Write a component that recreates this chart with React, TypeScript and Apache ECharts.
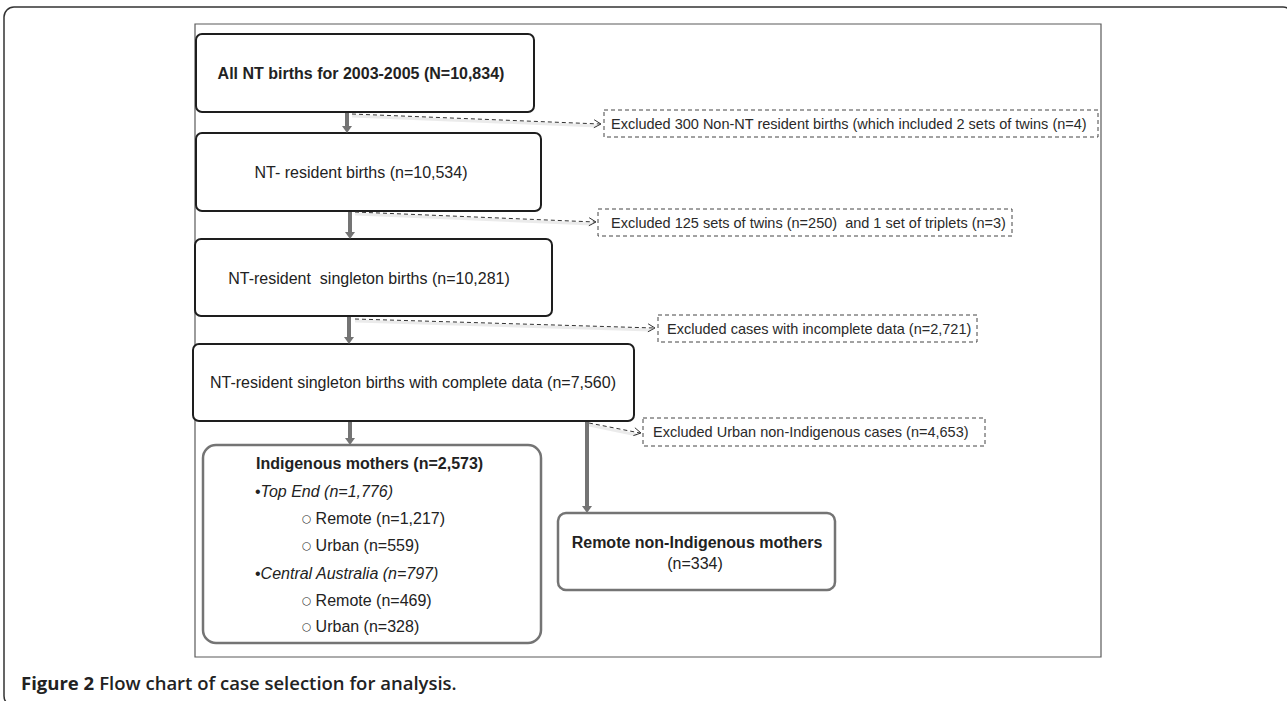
import React, { useEffect, useRef } from "react";
import * as echarts from "echarts";

// ---- data ----
const stepLabels = [
  "All NT births for 2003-2005",
  "NT- resident births",
  "NT-resident  singleton births",
  "NT-resident singleton births with complete data",
];
const stepCounts = ["N=10,834", "n=10,534", "n=10,281", "n=7,560"];
const excludedTexts = [
  "Excluded 300 Non-NT resident births (which included 2 sets of twins (n=4)",
  "Excluded 125 sets of twins (n=250)  and 1 set of triplets (n=3)",
  "Excluded cases with incomplete data (n=2,721)",
  "Excluded Urban non-Indigenous cases (n=4,653)",
];
const indigenousLabel = "Indigenous mothers";
const indigenousCount = "n=2,573";
const regionLabels = ["Top End", "Central Australia"];
const regionCounts = ["n=1,776", "n=797"];
const subLabels = ["Remote", "Urban", "Remote", "Urban"];
const subCounts = ["n=1,217", "n=559", "n=469", "n=328"];
const nonIndigenousLabel = "Remote non-Indigenous mothers";
const nonIndigenousCount = "n=334";
const captionLead = "Figure 2";
const captionText = "Flow chart of case selection for analysis.";

const FONT = '"Liberation Sans", Arial, Helvetica, sans-serif';
const DARK = "#1e1e1e";
const GRAY = "#747474";

function box(x1: number, y1: number, x2: number, y2: number, r: number, stroke: string, lw: number, dash?: number[]) {
  return {
    type: "rect",
    shape: { x: x1, y: y1, width: x2 - x1, height: y2 - y1, r },
    style: { fill: "#fff", stroke, lineWidth: lw, lineDash: dash },
    silent: true,
  };
}

function text(x: number, y: number, t: string, size: number, opts: any = {}) {
  const align = opts.align || "center";
  return {
    type: "text",
    x,
    y,
    silent: true,
    style: {
      text: t,
      fontFamily: opts.family || FONT,
      fontSize: size,
      fontWeight: opts.weight || "normal",
      fontStyle: opts.italic ? "italic" : "normal",
      fill: opts.color || "#222",
      align,
      textAlign: align,
      verticalAlign: "middle",
      textVerticalAlign: "middle",
      rich: opts.rich,
    },
  };
}

function grayArrow(x: number, y1: number, y2: number) {
  return [
    {
      type: "line",
      shape: { x1: x, y1, x2: x, y2: y2 - 6 },
      style: { stroke: GRAY, lineWidth: 4 },
      silent: true,
    },
    {
      type: "polygon",
      shape: { points: [[x - 5, y2 - 7], [x + 5, y2 - 7], [x, y2]] },
      style: { fill: GRAY },
      silent: true,
    },
  ];
}

function dashedArrow(x1: number, y1: number, x2: number, y2: number) {
  const dx = x2 - x1;
  const dy = y2 - y1;
  const len = Math.sqrt(dx * dx + dy * dy);
  const ux = dx / len;
  const uy = dy / len;
  const px = -uy;
  const py = ux;
  const bx = x2 - ux * 7;
  const by = y2 - uy * 7;
  return [
    {
      type: "line",
      shape: { x1, y1: y1 + 2, x2: x2 - 4, y2: y2 + 2 },
      style: { stroke: "rgba(0,0,0,0.08)", lineWidth: 3 },
      silent: true,
    },
    {
      type: "line",
      shape: { x1, y1, x2: x2 - 1, y2 },
      style: { stroke: "#333", lineWidth: 1, lineDash: [4, 3] },
      silent: true,
    },
    {
      type: "polyline",
      shape: { points: [[bx + px * 4, by + py * 4], [x2, y2], [bx - px * 4, by - py * 4]] },
      style: { stroke: "#333", lineWidth: 1, fill: null },
      silent: true,
    },
  ];
}

function excludedBox(x1: number, y1: number, x2: number, y2: number, padL: number, t: string) {
  return [
    box(x1, y1, x2, y2, 0, "#444", 1, [4, 3]),
    text(x1 + padL, (y1 + y2) / 2, t, 14.5, { align: "left", color: "#2a2a2a" }),
  ];
}

export default function App() {
  const ref = useRef<HTMLDivElement>(null);

  useEffect(() => {
    document.body.style.margin = "0";
    if (!ref.current) return;
    const chart = echarts.init(ref.current, undefined, { renderer: "svg" });

    const els: any[] = [];
    // outer frame and inner figure frame
    els.push(box(4, 7, 1293, 706, 10, "#333", 1.5));
    els.push(box(195, 24, 1101, 657, 0, "#5a5a5a", 1.2));

    // main steps
    const mainBoxes = [
      [196, 34, 534, 112],
      [196, 133, 541, 211],
      [195, 239, 552, 316],
      [193, 344, 634, 421],
    ];
    const mainTextPos = [
      [361, 73],
      [361, 172],
      [369, 278],
      [413, 382],
    ];
    mainBoxes.forEach((b, i) => {
      els.push(box(b[0], b[1], b[2], b[3], 6, DARK, 2));
      els.push(
        text(mainTextPos[i][0], mainTextPos[i][1], `${stepLabels[i]} (${stepCounts[i]})`, 16, {
          weight: i === 0 ? "bold" : "normal",
        })
      );
    });

    // arrows between steps
    els.push(...grayArrow(347, 113, 133));
    els.push(...grayArrow(350, 212, 239));
    els.push(...grayArrow(349, 317, 344));
    els.push(...grayArrow(350, 422, 445));
    els.push(...grayArrow(587, 422, 513));

    // exclusions
    els.push(...dashedArrow(352, 114, 601, 124));
    els.push(...excludedBox(604, 110, 1098, 137, 7, excludedTexts[0]));
    els.push(...dashedArrow(355, 212, 596, 222));
    els.push(...excludedBox(598, 209, 1012, 236, 13, excludedTexts[1]));
    els.push(...dashedArrow(355, 319, 655, 328));
    els.push(...excludedBox(658, 315, 977, 342, 9, excludedTexts[2]));
    els.push(...dashedArrow(589, 423, 641, 433));
    els.push(...excludedBox(643, 418, 985, 446, 10, excludedTexts[3]));

    // Indigenous mothers box
    els.push(box(203, 445, 541, 643, 13, GRAY, 2.5));
    els.push(text(256, 463, `${indigenousLabel} (${indigenousCount})`, 16, { align: "left", weight: "bold" }));
    const rowY = [491, 518, 545, 573, 600, 626];
    let sub = 0;
    regionLabels.forEach((r, ri) => {
      const base = ri * 3;
      els.push(
        text(255, rowY[base], `{b|•}{i|${r} (${regionCounts[ri]})}`, 16, {
          align: "left",
          rich: {
            b: { fontFamily: FONT, fontSize: 16, fill: "#222" },
            i: { fontFamily: FONT, fontSize: 16, fontStyle: "italic", fill: "#222" },
          },
        })
      );
      for (let k = 0; k < 2; k++) {
        els.push(
          text(302, rowY[base + 1 + k], `{c|○} {t|${subLabels[sub]} (${subCounts[sub]})}`, 16, {
            align: "left",
            rich: {
              c: { fontFamily: '"DejaVu Sans", sans-serif', fontSize: 10.5, fill: "#222" },
              t: { fontFamily: FONT, fontSize: 16, fill: "#222" },
            },
          })
        );
        sub++;
      }
    });

    // remote non-Indigenous box
    els.push(box(558, 513, 835, 590, 8, GRAY, 2.5));
    els.push(text(697, 542, nonIndigenousLabel, 16, { weight: "bold" }));
    els.push(text(695, 563, `(${nonIndigenousCount})`, 16));

    // caption
    els.push(
      text(21, 682, `{a|${captionLead}} {b|${captionText}}`, 18.5, {
        align: "left",
        rich: {
          a: { fontFamily: '"Open Sans", sans-serif', fontSize: 18.5, fontWeight: 700, fill: "#222" },
          b: { fontFamily: '"Open Sans", sans-serif', fontSize: 18.5, fontWeight: 600, fill: "#222" },
        },
      })
    );

    chart.setOption({
      animation: false,
      backgroundColor: "#fff",
      graphic: { elements: els },
    });

    return () => chart.dispose();
  }, []);

  return <div ref={ref} style={{ width: 1287, height: 701 }} />;
}
